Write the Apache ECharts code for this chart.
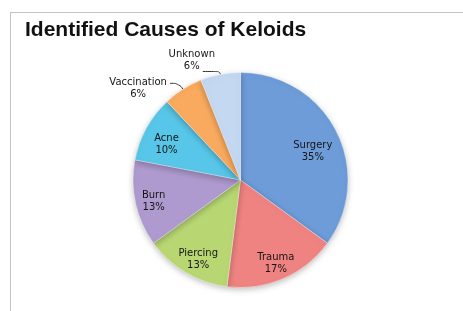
<!DOCTYPE html>
<html>
<head>
<meta charset="utf-8">
<script src="https://cdn.jsdelivr.net/npm/echarts@6/dist/echarts.min.js"></script>
<style>
html, body { margin: 0; padding: 0; background: #fff; }
#frame { position: absolute; left: 10px; top: 12px; width: 453px; height: 299px;
         border-left: 1.5px solid #c4c4c4; border-top: 1.5px solid #c4c4c4; }
#chart { position: absolute; left: 0; top: 0; width: 463px; height: 311px; }
</style>
</head>
<body>
<div id="frame"></div>
<div id="chart"></div>
<script>
var causes = ['Surgery', 'Trauma', 'Piercing', 'Burn', 'Acne', 'Vaccination', 'Unknown'];
var shares = [35, 17, 13, 13, 10, 6, 6];
var colors = ['#6d9cd9', '#ef8381', '#b8d672', '#ae9ace', '#58c6e8', '#f9aa5e', '#c4d8f1'];

// the two small slices carry their labels outside with a leader line
var outsideLabel = {
    Vaccination: { length: 7, length2: 9, dist: 2, padding: [10, 0, 0, 0], width: 60 },
    Unknown: { length: 3, length2: 17, dist: -10, padding: [0, 0, 23, 0], width: 42 }
};
// small nudges of the inside labels, like Excel's best-fit placement
var labelNudge = {
    Surgery: [-7, 12], Trauma: [0, 2], Piercing: [3, 3], Burn: [0, 2], Acne: [4, 7]
};

var chart = echarts.init(document.getElementById('chart'));
var center = [240.5, 180];
var R = 107.5;
var labelFont = { fontFamily: 'DejaVu Sans', fontSize: 10, lineHeight: 12, color: '#151515' };

var mainData = causes.map(function (name, i) {
    var o = outsideLabel[name];
    var item = {
        name: name,
        value: shares[i],
        itemStyle: { color: colors[i] },
        label: { show: false },
        labelLine: { show: false }
    };
    if (o) {
        item.label = {
            show: true,
            position: 'outside',
            formatter: '{a|{b}}\n{a|{c}%}',
            distanceToLabelLine: o.dist,
            padding: o.padding,
            rich: { a: Object.assign({ width: o.width, align: 'center' }, labelFont) }
        };
        item.labelLine = {
            show: true,
            length: o.length,
            length2: o.length2,
            smooth: 0.5,
            lineStyle: { color: '#333', width: 1 }
        };
    }
    return item;
});

var labelData = causes.map(function (name, i) {
    return { name: name, value: shares[i], label: { show: !outsideLabel[name] } };
});

var option = {
    animation: false,
    title: {
        text: 'Identified Causes of Keloids',
        left: 20,
        top: 15,
        textStyle: { fontFamily: 'Liberation Sans', fontWeight: 'bold', fontSize: 21, color: '#111' }
    },
    series: [
        {
            name: 'Causes',
            type: 'pie',
            center: center,
            radius: [0, R],
            startAngle: 90,
            clockwise: true,
            avoidLabelOverlap: false,
            data: mainData,
            itemStyle: {
                borderColor: 'rgba(255,255,255,0.6)',
                borderWidth: 0.6,
                shadowBlur: 6,
                shadowColor: 'rgba(0,0,0,0.25)',
                shadowOffsetY: 2
            },
            label: labelFont,
            emphasis: { disabled: true }
        },
        {
            name: 'Labels',
            type: 'pie',
            center: center,
            radius: [R * 0.6, R],
            startAngle: 90,
            clockwise: true,
            silent: true,
            data: labelData,
            itemStyle: { color: 'rgba(0,0,0,0)' },
            label: Object.assign({
                position: 'inside',
                formatter: '{b}\n{c}%'
            }, labelFont),
            labelLine: { show: false },
            labelLayout: function (params) {
                var n = labelNudge[causes[params.dataIndex]];
                return n ? { dx: n[0], dy: n[1] } : {};
            },
            emphasis: { disabled: true }
        }
    ]
};
chart.setOption(option);
</script>
</body>
</html>
